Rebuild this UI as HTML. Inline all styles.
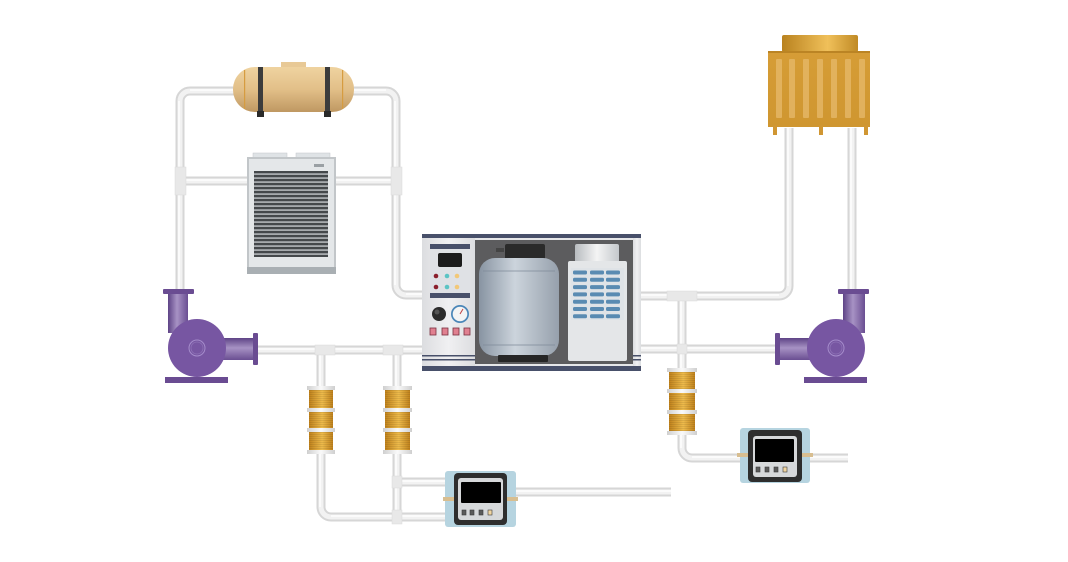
<!DOCTYPE html>
<html><head><meta charset="utf-8"><style>
html,body{margin:0;padding:0;background:#fff;}
svg{display:block;}
</style></head><body>
<svg width="1068" height="562" viewBox="0 0 1068 562" xmlns="http://www.w3.org/2000/svg">
<defs>
<linearGradient id="tankG" x1="0" y1="0" x2="0" y2="1">
<stop offset="0" stop-color="#efd3a0"/><stop offset="0.5" stop-color="#e2bf88"/><stop offset="1" stop-color="#bf9862"/></linearGradient>
<linearGradient id="pvH" x1="0" y1="0" x2="1" y2="0">
<stop offset="0" stop-color="#5e4386"/><stop offset="0.45" stop-color="#a792c4"/><stop offset="1" stop-color="#6a4e92"/></linearGradient>
<linearGradient id="pvV" x1="0" y1="0" x2="0" y2="1">
<stop offset="0" stop-color="#5e4386"/><stop offset="0.45" stop-color="#a792c4"/><stop offset="1" stop-color="#6a4e92"/></linearGradient>
<linearGradient id="coilG" x1="0" y1="0" x2="1" y2="0">
<stop offset="0" stop-color="#c0821c"/><stop offset="0.55" stop-color="#eebb4c"/><stop offset="1" stop-color="#c0821c"/></linearGradient>
<linearGradient id="ringG" x1="0" y1="0" x2="1" y2="0">
<stop offset="0" stop-color="#cfcfcf"/><stop offset="0.5" stop-color="#fafafa"/><stop offset="1" stop-color="#cfcfcf"/></linearGradient>
<linearGradient id="cylG" x1="0" y1="0" x2="1" y2="0">
<stop offset="0" stop-color="#8894a2"/><stop offset="0.45" stop-color="#ccd4dc"/><stop offset="1" stop-color="#96a0ac"/></linearGradient>
<linearGradient id="capG" x1="0" y1="0" x2="1" y2="0">
<stop offset="0" stop-color="#b8bcc0"/><stop offset="0.5" stop-color="#f4f4f4"/><stop offset="1" stop-color="#c4c8cc"/></linearGradient>
<linearGradient id="towerCap" x1="0" y1="0" x2="1" y2="0">
<stop offset="0" stop-color="#b9821f"/><stop offset="0.6" stop-color="#f0c05a"/><stop offset="1" stop-color="#c08a25"/></linearGradient>
<linearGradient id="towerBody" x1="0" y1="0" x2="0" y2="1">
<stop offset="0" stop-color="#d69d36"/><stop offset="1" stop-color="#cf9630"/></linearGradient>
<linearGradient id="panelG" x1="0" y1="0" x2="1" y2="0">
<stop offset="0" stop-color="#dcdde0"/><stop offset="0.5" stop-color="#f0f0f2"/><stop offset="1" stop-color="#dcdde0"/></linearGradient>
<pattern id="louver" x="0" y="171" width="10" height="4" patternUnits="userSpaceOnUse">
<rect width="10" height="4" fill="#a6aaad"/><rect width="10" height="2.2" fill="#44484b"/></pattern>
<pattern id="coilLines" x="0" y="0" width="10" height="2" patternUnits="userSpaceOnUse">
<rect width="10" height="1" fill="#000" opacity="0.08"/></pattern>
</defs>

<!-- PIPES -->
<g fill="none" stroke-linecap="butt">
<g stroke="#d6d6d6" stroke-width="9">
<path d="M180 292 V101 A10 10 0 0 1 190 91 H240"/>
<path d="M348 91 H386 A10 10 0 0 1 396 101 V285 A10 10 0 0 0 406 295 H423"/>
<path d="M180 181 H250 M334 181 H396"/>
<path d="M257 350 H423"/>
<path d="M321 350 V507 A10 10 0 0 0 331 517 H446"/>
<path d="M397 350 V517 M397 482 H446"/>
<path d="M516 492 H671"/>
<path d="M641 296 H779 A10 10 0 0 0 789 286 V128"/>
<path d="M852 128 V291"/>
<path d="M641 349 H776"/>
<path d="M682 296 V448 A10 10 0 0 0 692 458 H848"/>
</g>
<g stroke="#f2f2f2" stroke-width="5">
<path d="M180 292 V101 A10 10 0 0 1 190 91 H240"/>
<path d="M348 91 H386 A10 10 0 0 1 396 101 V285 A10 10 0 0 0 406 295 H423"/>
<path d="M180 181 H250 M334 181 H396"/>
<path d="M257 350 H423"/>
<path d="M321 350 V507 A10 10 0 0 0 331 517 H446"/>
<path d="M397 350 V517 M397 482 H446"/>
<path d="M516 492 H671"/>
<path d="M641 296 H779 A10 10 0 0 0 789 286 V128"/>
<path d="M852 128 V291"/>
<path d="M641 349 H776"/>
<path d="M682 296 V448 A10 10 0 0 0 692 458 H848"/>
</g>
<g stroke="#ffffff" stroke-width="1.5" opacity="0.9">
<path d="M179 292 V101 M190 90 H240 M348 90 H386 M395 101 V285 M406 294 H423 M180 180 H250 M334 180 H396 M257 349 H423 M320 350 V507 M331 516 H446 M396 350 V517 M397 481 H446 M516 491 H671 M641 295 H779 M788 286 V128 M851 128 V291 M641 348 H776 M681 296 V448 M692 457 H848"/>
</g>
</g>
<!-- tee collars -->
<g fill="#e8e8e8" stroke="#dadada" stroke-width="0.5">
<rect x="175" y="167" width="11" height="28"/>
<rect x="391" y="167" width="11" height="28"/>
<rect x="315" y="345" width="20" height="10"/>
<rect x="383" y="345" width="20" height="10"/>
<rect x="667" y="291" width="30" height="10"/>
<rect x="677" y="344" width="10" height="10"/>
<rect x="392" y="510" width="10" height="14"/>
<rect x="392" y="476" width="10" height="12"/>
</g>

<!-- TANK (top) -->
<rect x="281" y="62" width="25" height="7" fill="#e8c996"/>
<rect x="233" y="67" width="121" height="45" rx="22" fill="url(#tankG)"/>
<rect x="244" y="70" width="1.2" height="39" fill="#d69c40"/>
<rect x="342" y="70" width="1.2" height="39" fill="#d69c40"/>
<rect x="258" y="67" width="5" height="45" fill="#3c3c3c"/>
<rect x="325" y="67" width="5" height="45" fill="#3c3c3c"/>
<rect x="257" y="111" width="7" height="6" fill="#2a2a2a"/>
<rect x="324" y="111" width="7" height="6" fill="#2a2a2a"/>

<!-- RADIATOR -->
<rect x="253" y="153" width="34" height="6" fill="#dfe3e6" stroke="#c2c6c9" stroke-width="0.5"/>
<rect x="296" y="153" width="34" height="6" fill="#dfe3e6" stroke="#c2c6c9" stroke-width="0.5"/>
<rect x="247" y="157" width="89" height="117" fill="#c2c6c9"/>
<rect x="249" y="159" width="85" height="108" fill="#e4e7e9"/>
<rect x="247" y="267" width="89" height="7" fill="#a9afb3"/>
<rect x="314" y="164" width="10" height="3" fill="#9aa0a4"/>
<rect x="254" y="171" width="74" height="86" fill="url(#louver)"/>

<!-- CENTRAL UNIT -->
<rect x="422" y="234" width="219" height="137" fill="#e6e7e9"/>
<rect x="422" y="238" width="53" height="128" fill="url(#panelG)"/>
<rect x="633" y="238" width="8" height="128" fill="url(#panelG)"/>
<rect x="422" y="234" width="219" height="4" fill="#48506a"/>
<rect x="422" y="366" width="219" height="5" fill="#48506a"/>
<rect x="422" y="355" width="53" height="1.5" fill="#48506a"/>
<rect x="422" y="359" width="53" height="1.5" fill="#48506a"/>
<rect x="633" y="355" width="8" height="1.5" fill="#48506a"/>
<rect x="633" y="359" width="8" height="1.5" fill="#48506a"/>
<rect x="475" y="240" width="158" height="124" fill="#5c5c5e"/>
<!-- left panel -->
<rect x="430" y="244" width="40" height="54" fill="#dfe1e5"/>
<rect x="430" y="244" width="40" height="5" fill="#48506a"/>
<rect x="430" y="293" width="40" height="5" fill="#48506a"/>
<rect x="438" y="253" width="24" height="14" rx="2" fill="#1c1c1c"/>
<circle cx="436" cy="276" r="2.3" fill="#8a1e2c"/><circle cx="447" cy="276" r="2.3" fill="#5cc4c4"/><circle cx="457" cy="276" r="2.3" fill="#f2c878"/>
<circle cx="436" cy="287" r="2.3" fill="#8a1e2c"/><circle cx="447" cy="287" r="2.3" fill="#5cc4c4"/><circle cx="457" cy="287" r="2.3" fill="#f2c878"/>
<circle cx="439" cy="314" r="7" fill="#2c2c2c"/><circle cx="437" cy="312" r="2.5" fill="#555"/>
<circle cx="460" cy="314" r="9" fill="#4a86b8"/><circle cx="460" cy="314" r="7.3" fill="#f4f4f4"/>
<line x1="460" y1="314" x2="463" y2="309" stroke="#c04040" stroke-width="1"/>
<g fill="#e08090" stroke="#7a3040" stroke-width="0.8">
<rect x="430" y="328" width="6" height="7"/><rect x="442" y="328" width="6" height="7"/><rect x="453" y="328" width="6" height="7"/><rect x="464" y="328" width="6" height="7"/></g>
<!-- cylinder tank -->
<rect x="505" y="244" width="40" height="16" rx="2" fill="#2a2a2a"/>
<rect x="496" y="248" width="8" height="4" fill="#444"/>
<rect x="479" y="258" width="80" height="98" rx="16" fill="url(#cylG)"/>
<line x1="483" y1="271" x2="555" y2="271" stroke="#7e8a98" stroke-width="0.7"/>
<line x1="483" y1="345" x2="555" y2="345" stroke="#7e8a98" stroke-width="0.7"/>
<rect x="498" y="355" width="50" height="7" rx="1" fill="#262626"/>
<!-- right module -->
<rect x="575" y="244" width="44" height="19" rx="2" fill="url(#capG)"/>
<rect x="568" y="261" width="59" height="100" rx="2" fill="#e4e6e8"/>
<rect x="571" y="268" width="53" height="52" fill="#dfe3e7"/>
<g fill="#5a8bb2">
<rect x="573" y="270.5" width="14" height="4" rx="1.5"/><rect x="590" y="270.5" width="14" height="4" rx="1.5"/><rect x="606" y="270.5" width="14" height="4" rx="1.5"/>
<rect x="573" y="277.8" width="14" height="4" rx="1.5"/><rect x="590" y="277.8" width="14" height="4" rx="1.5"/><rect x="606" y="277.8" width="14" height="4" rx="1.5"/>
<rect x="573" y="285.1" width="14" height="4" rx="1.5"/><rect x="590" y="285.1" width="14" height="4" rx="1.5"/><rect x="606" y="285.1" width="14" height="4" rx="1.5"/>
<rect x="573" y="292.4" width="14" height="4" rx="1.5"/><rect x="590" y="292.4" width="14" height="4" rx="1.5"/><rect x="606" y="292.4" width="14" height="4" rx="1.5"/>
<rect x="573" y="299.7" width="14" height="4" rx="1.5"/><rect x="590" y="299.7" width="14" height="4" rx="1.5"/><rect x="606" y="299.7" width="14" height="4" rx="1.5"/>
<rect x="573" y="307" width="14" height="4" rx="1.5"/><rect x="590" y="307" width="14" height="4" rx="1.5"/><rect x="606" y="307" width="14" height="4" rx="1.5"/>
<rect x="573" y="314.3" width="14" height="4" rx="1.5"/><rect x="590" y="314.3" width="14" height="4" rx="1.5"/><rect x="606" y="314.3" width="14" height="4" rx="1.5"/>
</g>

<!-- LEFT PUMP -->
<rect x="168" y="293" width="20" height="40" fill="url(#pvH)"/>
<rect x="163" y="289" width="31" height="5" rx="1" fill="#6a4c92"/>
<rect x="222" y="338" width="32" height="22" fill="url(#pvV)"/>
<rect x="253" y="333" width="5" height="32" rx="1" fill="#6a4c92"/>
<circle cx="197" cy="348" r="29" fill="#7756a2"/>
<circle cx="197" cy="348" r="8" fill="none" stroke="#a58ccb" stroke-width="1"/>
<circle cx="197" cy="348" r="6" fill="none" stroke="#8e72b6" stroke-width="0.8"/>
<rect x="165" y="377" width="63" height="6" fill="#6a4c92"/>

<!-- RIGHT PUMP -->
<rect x="843" y="293" width="22" height="40" fill="url(#pvH)"/>
<rect x="838" y="289" width="31" height="5" rx="1" fill="#6a4c92"/>
<rect x="778" y="338" width="32" height="22" fill="url(#pvV)"/>
<rect x="775" y="333" width="5" height="32" rx="1" fill="#6a4c92"/>
<circle cx="836" cy="348" r="29" fill="#7756a2"/>
<circle cx="836" cy="348" r="8" fill="none" stroke="#a58ccb" stroke-width="1"/>
<circle cx="836" cy="348" r="6" fill="none" stroke="#8e72b6" stroke-width="0.8"/>
<rect x="804" y="377" width="63" height="6" fill="#6a4c92"/>

<!-- COOLING TOWER -->
<rect x="782" y="35" width="76" height="17" rx="2" fill="url(#towerCap)"/>
<rect x="768" y="51" width="102" height="76" fill="url(#towerBody)"/>
<rect x="768" y="51" width="102" height="2" fill="#bb8424"/>
<g fill="#e6b868" opacity="0.8">
<rect x="776" y="59" width="6" height="59" rx="1"/><rect x="789" y="59" width="6" height="59" rx="1"/><rect x="803" y="59" width="6" height="59" rx="1"/><rect x="817" y="59" width="6" height="59" rx="1"/><rect x="831" y="59" width="6" height="59" rx="1"/><rect x="845" y="59" width="6" height="59" rx="1"/><rect x="859" y="59" width="6" height="59" rx="1"/></g>
<g fill="#d09632">
<rect x="773" y="125" width="4" height="10"/><rect x="819" y="125" width="4" height="10"/><rect x="864" y="125" width="4" height="10"/></g>

<!-- COILS -->
<g>
<rect x="309" y="388" width="24" height="64" fill="url(#coilG)"/>
<rect x="309" y="388" width="24" height="64" fill="url(#coilLines)"/>
<rect x="307" y="386" width="28" height="4" fill="url(#ringG)"/>
<rect x="307" y="408" width="28" height="4" fill="url(#ringG)"/>
<rect x="307" y="428" width="28" height="4" fill="url(#ringG)"/>
<rect x="307" y="450" width="28" height="4" fill="url(#ringG)"/>
</g>
<g>
<rect x="385" y="388" width="25" height="64" fill="url(#coilG)"/>
<rect x="385" y="388" width="25" height="64" fill="url(#coilLines)"/>
<rect x="383" y="386" width="29" height="4" fill="url(#ringG)"/>
<rect x="383" y="408" width="29" height="4" fill="url(#ringG)"/>
<rect x="383" y="428" width="29" height="4" fill="url(#ringG)"/>
<rect x="383" y="450" width="29" height="4" fill="url(#ringG)"/>
</g>
<g>
<rect x="669" y="369" width="26" height="65" fill="url(#coilG)"/>
<rect x="669" y="369" width="26" height="65" fill="url(#coilLines)"/>
<rect x="667" y="368" width="30" height="4" fill="url(#ringG)"/>
<rect x="667" y="389" width="30" height="4" fill="url(#ringG)"/>
<rect x="667" y="410" width="30" height="4" fill="url(#ringG)"/>
<rect x="667" y="431" width="30" height="4" fill="url(#ringG)"/>
</g>

<!-- CONTROLLER 1 -->
<rect x="445" y="471" width="71" height="56" rx="3" fill="#b6d4e0"/>
<rect x="454" y="473" width="53" height="52" rx="4" fill="#2e2e2e"/>
<rect x="458" y="478" width="45" height="42" rx="3" fill="#d6d8da"/>
<rect x="461" y="482" width="40" height="21" rx="1" fill="#000"/>
<g stroke="#3a3a3a" stroke-width="0.6"><rect x="462" y="510" width="4" height="5" fill="#5a5a5a"/><rect x="470" y="510" width="4" height="5" fill="#5a5a5a"/><rect x="479" y="510" width="4" height="5" fill="#5a5a5a"/><rect x="488" y="510" width="4" height="5" fill="#f0d4a0"/></g>
<rect x="443" y="497" width="11" height="4" fill="#d8be90"/>
<rect x="507" y="497" width="11" height="4" fill="#d8be90"/>

<!-- CONTROLLER 2 -->
<rect x="740" y="428" width="70" height="55" rx="3" fill="#b6d4e0"/>
<rect x="748" y="430" width="54" height="52" rx="4" fill="#2e2e2e"/>
<rect x="753" y="436" width="44" height="41" rx="3" fill="#d6d8da"/>
<rect x="755" y="439" width="39" height="23" rx="1" fill="#000"/>
<g stroke="#3a3a3a" stroke-width="0.6"><rect x="756" y="467" width="4" height="5" fill="#5a5a5a"/><rect x="765" y="467" width="4" height="5" fill="#5a5a5a"/><rect x="774" y="467" width="4" height="5" fill="#5a5a5a"/><rect x="783" y="467" width="4" height="5" fill="#f0d4a0"/></g>
<rect x="737" y="453" width="11" height="4" fill="#d8be90"/>
<rect x="802" y="453" width="11" height="4" fill="#d8be90"/>
</svg>
</body></html>
